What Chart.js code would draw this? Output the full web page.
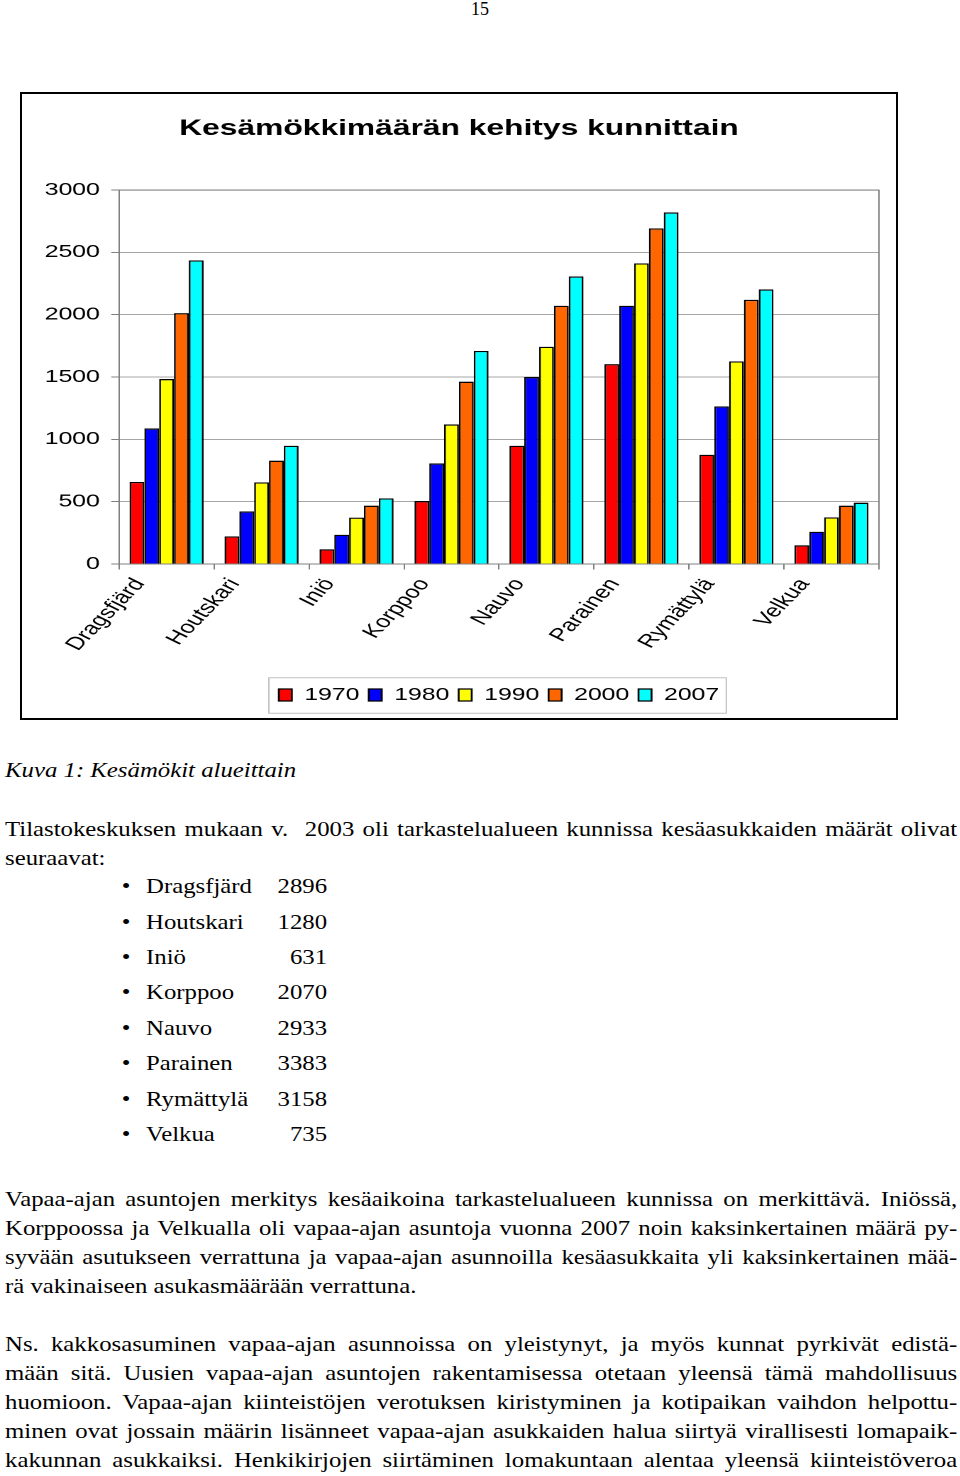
<!DOCTYPE html>
<html>
<head>
<meta charset="utf-8">
<script src="https://cdn.jsdelivr.net/npm/chart.js@4.4.1/dist/chart.umd.min.js"></script>
<style>
body { margin: 0; width: 960px; height: 1476px; background: #fff; position: relative; overflow: hidden;
       font-family: "Liberation Serif", "Times New Roman", serif; color: #000; }
#pageno { position: absolute; left: 0; top: -1px; width: 960px; text-align: center; font-size: 18px; }
#chart-box { position: absolute; left: 20px; top: 92px; width: 874px; height: 624px; border: 2px solid #000; }
#chart-wrap { position: absolute; left: 0; top: 0; width: 616px; height: 624px;
              transform: scaleX(1.4188); transform-origin: 0 0; }
.txt { position: absolute; left: 5px; width: 807px; transform: scaleX(1.18); transform-origin: 0 0; font-size: 21px; }
.ln { height: 29px; line-height: 29px; white-space: nowrap; }
.j { text-align: justify; text-align-last: justify; }
.bl { position: relative; height: 35.4px; line-height: 35.4px; white-space: nowrap; }
.bl .dot { position: absolute; left: 99px; }
.bl .nm { position: absolute; left: 119.5px; }
.bl .nr { position: absolute; left: 193px; width: 80px; text-align: right; }
</style>
</head>
<body>
<div id="pageno">15</div>

<div id="chart-box">
  <div id="chart-wrap"><canvas id="cabinChart" width="616" height="624"></canvas></div>
</div>

<div class="txt" style="top:755.5px"><div class="ln"><i>Kuva 1: Kesämökit alueittain</i></div></div>

<div class="txt" style="top:814.5px">
  <div class="ln j">Tilastokeskuksen mukaan v.&nbsp; 2003 oli tarkastelualueen kunnissa kesäasukkaiden määrät olivat</div>
  <div class="ln">seuraavat:</div>
</div>

<div class="txt" id="summer-list" style="top:869.3px"></div>

<div class="txt" style="top:1184.5px">
  <div class="ln j">Vapaa-ajan asuntojen merkitys kesäaikoina tarkastelualueen kunnissa on merkittävä. Iniössä,</div>
  <div class="ln j">Korppoossa ja Velkualla oli vapaa-ajan asuntoja vuonna 2007 noin kaksinkertainen määrä py-</div>
  <div class="ln j">syvään asutukseen verrattuna ja vapaa-ajan asunnoilla kesäasukkaita yli kaksinkertainen mää-</div>
  <div class="ln">rä vakinaiseen asukasmäärään verrattuna.</div>
</div>

<div class="txt" style="top:1329.5px">
  <div class="ln j">Ns. kakkosasuminen vapaa-ajan asunnoissa on yleistynyt, ja myös kunnat pyrkivät edistä-</div>
  <div class="ln j">mään sitä. Uusien vapaa-ajan asuntojen rakentamisessa otetaan yleensä tämä mahdollisuus</div>
  <div class="ln j">huomioon. Vapaa-ajan kiinteistöjen verotuksen kiristyminen ja kotipaikan vaihdon helpottu-</div>
  <div class="ln j">minen ovat jossain määrin lisänneet vapaa-ajan asukkaiden halua siirtyä virallisesti lomapaik-</div>
  <div class="ln j">kakunnan asukkaiksi. Henkikirjojen siirtäminen lomakuntaan alentaa yleensä kiinteistöveroa</div>
</div>

<script>
// --- data --------------------------------------------------------------
var municipalities = ["Dragsfjärd", "Houtskari", "Iniö", "Korppoo", "Nauvo", "Parainen", "Rymättylä", "Velkua"];
var years = ["1970", "1980", "1990", "2000", "2007"];

var cabins1970 = [658, 222, 118, 505, 949, 1604, 877, 150];
var cabins1980 = [1088, 422, 235, 807, 1500, 2072, 1265, 259];
var cabins1990 = [1484, 655, 372, 1120, 1743, 2412, 1626, 374];
var cabins2000 = [2013, 829, 468, 1463, 2072, 2693, 2120, 468];
var cabins2007 = [2436, 949, 527, 1709, 2307, 2821, 2203, 492];

var yearColors = ["#FF0000", "#0000FF", "#FFFF00", "#FF6600", "#00FFFF"];

// summer residents 2003 (the bullet list below the chart)
var summerResidents = [2896, 1280, 631, 2070, 2933, 3383, 3158, 735];

var FONT = "'Liberation Sans', Arial, sans-serif";

// --- bullet list --------------------------------------------------------
function renderSummerList() {
    var html = "";
    municipalities.forEach(function (name, i) {
        html += '<div class="bl"><span class="dot">&bull;</span><span class="nm">' + name +
            '</span><span class="nr">' + summerResidents[i] + '</span></div>';
    });
    document.getElementById("summer-list").innerHTML = html;
}

// --- chart --------------------------------------------------------------
var framePlugin = {
    id: "frames",
    beforeDatasetsDraw: function (chart) { // top + right edge of the plot area
        var a = chart.chartArea;
        var ctx = chart.ctx;
        ctx.save();
        ctx.strokeStyle = "#808080";
        ctx.lineWidth = 1;
        ctx.beginPath();
        ctx.moveTo(a.left, a.top);
        ctx.lineTo(a.right, a.top);
        ctx.lineTo(a.right, a.bottom);
        ctx.stroke();
        ctx.restore();
    },
    afterDraw: function (chart) { // thin box round the legend
        var boxes = chart.legend ? chart.legend.legendHitBoxes : [];
        if (!boxes || boxes.length == 0) {
            return;
        }
        var left = boxes[0].left, right = 0, top = boxes[0].top, h = boxes[0].height;
        boxes.forEach(function (b) {
            left = Math.min(left, b.left);
            right = Math.max(right, b.left + b.width);
        });
        var ctx = chart.ctx;
        ctx.save();
        ctx.strokeStyle = "#c0c0c0";
        ctx.lineWidth = 1;
        ctx.strokeRect(left - 7, top - 8.5, right - left + 12, h + 18);
        ctx.restore();
    }
};

function buildDatasets() {
    var series = [cabins1970, cabins1980, cabins1990, cabins2000, cabins2007];
    return series.map(function (values, i) {
        return {
            label: years[i],
            data: values,
            backgroundColor: yearColors[i],
            borderColor: "#000",
            borderWidth: 1.3,
            categoryPercentage: 0.78,
            barPercentage: 1.0
        };
    });
}

function renderChart() {
    var ctx = document.getElementById("cabinChart").getContext("2d");
    new Chart(ctx, {
        type: "bar",
        data: {labels: municipalities, datasets: buildDatasets()},
        plugins: [framePlugin],
        options: {
            responsive: false,
            animation: false,
            devicePixelRatio: 2,
            layout: {padding: {left: 12, right: 12, top: 0, bottom: 4.25}},
            plugins: {
                title: {
                    display: true,
                    text: "Kesämökkimäärän kehitys kunnittain",
                    color: "#000",
                    font: {family: FONT, size: 22.4, weight: "bold"},
                    padding: {top: 21.6, bottom: 47.6}
                },
                legend: {
                    position: "bottom",
                    fullSize: false,
                    labels: {
                        color: "#000",
                        font: {family: FONT, size: 17.5},
                        boxWidth: 9.2,
                        boxHeight: 12,
                        padding: 6.5
                    }
                },
                tooltip: {enabled: false}
            },
            scales: {
                x: {
                    grid: {drawOnChartArea: false, drawTicks: true, tickLength: 5.5, color: "#808080", offset: true},
                    border: {color: "#808080"},
                    ticks: {
                        color: "#000",
                        font: {family: FONT, size: 18},
                        minRotation: 55,
                        maxRotation: 55,
                        autoSkip: false,
                        labelOffset: -19,
                        padding: 5
                    },
                    afterFit: function (scale) { scale.height = 115.75; }
                },
                y: {
                    min: 0,
                    max: 3000,
                    ticks: {
                        stepSize: 500,
                        color: "#000",
                        font: {family: FONT, size: 17.5},
                        padding: 8,
                        callback: function (value) { return String(value); } // no thousands separator
                    },
                    grid: {color: "#a6a6a6", tickColor: "#808080", tickLength: 5.5},
                    border: {color: "#808080"},
                    afterFit: function (scale) { scale.width = 56.4; }
                }
            }
        }
    });
}

renderSummerList();
renderChart();
</script>
</body>
</html>
